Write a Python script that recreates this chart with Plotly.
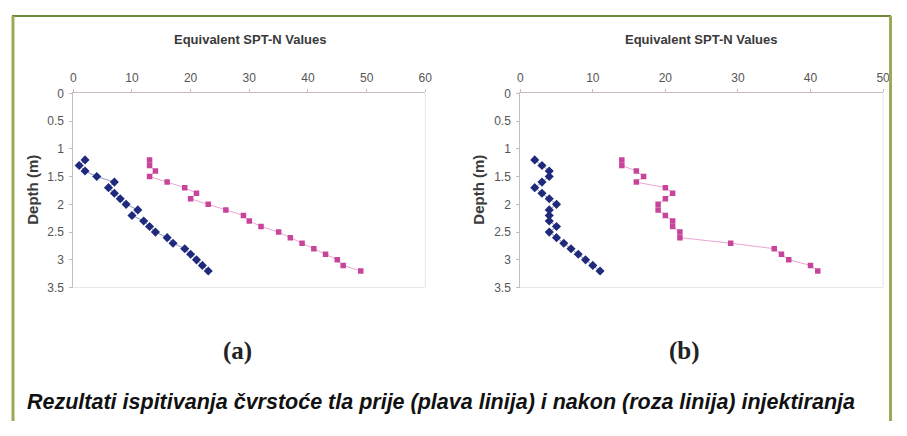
import plotly.graph_objects as go

# Figure is sized so that, with the page's default 8px body margin,
# the rendered page is exactly 907x436.
PAGE_W, PAGE_H = 907, 436
OFF = 8
W, H = PAGE_W - 2 * OFF, PAGE_H - 2 * OFF

# ---------------- data ----------------
depth_a = [1.2, 1.3, 1.4, 1.5, 1.6, 1.7, 1.8, 1.9, 2.0, 2.1, 2.2, 2.3, 2.4, 2.5, 2.6, 2.7, 2.8, 2.9, 3.0, 3.1, 3.2]
before_a = [2, 1, 2, 4, 7, 6, 7, 8, 9, 11, 10, 12, 13, 14, 16, 17, 19, 20, 21, 22, 23]
after_a = [13, 13, 14, 13, 16, 19, 21, 20, 23, 26, 29, 30, 32, 35, 37, 39, 41, 43, 45, 46, 49]

depth_b = [1.2, 1.3, 1.4, 1.5, 1.6, 1.7, 1.8, 1.9, 2.0, 2.1, 2.2, 2.3, 2.4, 2.5, 2.6, 2.7, 2.8, 2.9, 3.0, 3.1, 3.2]
before_b = [2, 3, 4, 4, 3, 2, 3, 4, 5, 4, 4, 4, 5, 4, 5, 6, 7, 8, 9, 10, 11]
after_b = [14, 14, 16, 17, 16, 20, 21, 20, 19, 19, 20, 21, 21, 22, 22, 29, 35, 36, 37, 40, 41]

x_title = "Equivalent SPT-N Values"
y_title = "Depth (m)"
panel_labels = ["(a)", "(b)"]
caption = "Rezultati ispitivanja čvrstoće tla prije (plava linija) i nakon (roza linija) injektiranja"

BLUE = "#1f2a7c"
BLUE_LINE = "#9096c4"
PINK = "#c8449a"
PINK_LINE = "#eaa6d2"


def px_x(p):
    """page pixel x -> paper fraction"""
    return (p - OFF) / W


def px_y(p):
    """page pixel y -> paper fraction"""
    return 1 - (p - OFF) / H


fig = go.Figure()


def add_pair(depth, before, after, xa, ya):
    fig.add_trace(go.Scatter(x=before, y=depth, mode="lines+markers", xaxis=xa, yaxis=ya,
                             line=dict(color=BLUE_LINE, width=1),
                             marker=dict(symbol="diamond", size=7, color=BLUE),
                             showlegend=False))
    fig.add_trace(go.Scatter(x=after, y=depth, mode="lines+markers", xaxis=xa, yaxis=ya,
                             line=dict(color=PINK_LINE, width=1),
                             marker=dict(symbol="square", size=5.5, color=PINK),
                             showlegend=False))


add_pair(depth_a, before_a, after_a, "x", "y")
add_pair(depth_b, before_b, after_b, "x2", "y2")

tickfont = dict(family="Liberation Sans, Arial, sans-serif", size=12, color="#555555")
axis_line = "#c9bcbc"


def xaxis(domain, rng, anchor):
    return dict(domain=domain, range=rng, dtick=10, side="top", anchor=anchor,
                showgrid=False, zeroline=False, showline=True, linecolor=axis_line, linewidth=1,
                ticks="outside", ticklen=3, tickcolor=axis_line,
                ticklabelstandoff=3, tickfont=tickfont, fixedrange=True)


def yaxis(domain, anchor):
    return dict(domain=domain, range=[3.5, 0], dtick=0.5, anchor=anchor,
                showgrid=False, zeroline=False, showline=True, linecolor=axis_line, linewidth=1,
                ticks="outside", ticklen=3, tickcolor=axis_line, ticklabelstandoff=3,
                tickfont=tickfont, fixedrange=True)


ydom = [px_y(290), px_y(89)]
fig.update_layout(
    width=W, height=H,
    margin=dict(l=0, r=0, t=0, b=0),
    paper_bgcolor="white", plot_bgcolor="white",
    xaxis=xaxis([px_x(71), px_x(427)], [0, 60], "y"),
    yaxis=yaxis(ydom, "x"),
    xaxis2=xaxis([px_x(523), px_x(890)], [0, 50], "y2"),
    yaxis2=yaxis(ydom, "x2"),
)

shapes = []
# faint plot-area frames (right and bottom edges)
for x0, x1 in [(71, 427), (523, 890)]:
    shapes.append(dict(type="line", xref="paper", yref="paper", x0=px_x(x1), x1=px_x(x1),
                       y0=px_y(89), y1=px_y(290), line=dict(color="#e6e6e6", width=1)))
    shapes.append(dict(type="line", xref="paper", yref="paper", x0=px_x(x0), x1=px_x(x1),
                       y0=px_y(290), y1=px_y(290), line=dict(color="#e6e6e6", width=1)))
# outer olive border (open at the bottom)
shapes.append(dict(type="line", xref="paper", yref="paper", x0=px_x(9), x1=px_x(898),
                   y0=px_y(9), y1=px_y(9), line=dict(color="#6f8a35", width=2)))
shapes.append(dict(type="line", xref="paper", yref="paper", x0=px_x(10), x1=px_x(10),
                   y0=px_y(9), y1=0, line=dict(color="#9caa58", width=3)))
shapes.append(dict(type="line", xref="paper", yref="paper", x0=px_x(897.5), x1=px_x(897.5),
                   y0=px_y(9), y1=0, line=dict(color="#9caa58", width=3)))
fig.update_layout(shapes=shapes)

title_font = dict(family="Liberation Sans, Arial, sans-serif", size=13, color="#3a3a3a")
ann = []
for cx in [250, 706]:
    ann.append(dict(text="<b>%s</b>" % x_title, x=px_x(cx), y=px_y(33), xref="paper", yref="paper",
                    showarrow=False, xanchor="center", yanchor="middle", font=title_font))
for cx in [30, 481]:
    ann.append(dict(text="<b>%s</b>" % y_title, x=px_x(cx), y=px_y(189), xref="paper", yref="paper",
                    showarrow=False, xanchor="center", yanchor="middle", textangle=-90,
                    font=dict(family="Liberation Sans, Arial, sans-serif", size=15, color="#3a3a3a")))
for cx, lab in zip([237, 689], panel_labels):
    ann.append(dict(text="<b>%s</b>" % lab, x=px_x(cx), y=px_y(356), xref="paper", yref="paper",
                    showarrow=False, xanchor="center", yanchor="middle",
                    font=dict(family="Liberation Serif, serif", size=25, color="#222222")))
ann.append(dict(text="<b><i>%s</i></b>" % caption, x=px_x(22), y=px_y(408), xref="paper", yref="paper",
                showarrow=False, xanchor="left", yanchor="middle",
                font=dict(family="Liberation Sans, Arial, sans-serif", size=21.5, color="#111111")))
fig.update_layout(annotations=ann)

fig.write_html("out.html")
